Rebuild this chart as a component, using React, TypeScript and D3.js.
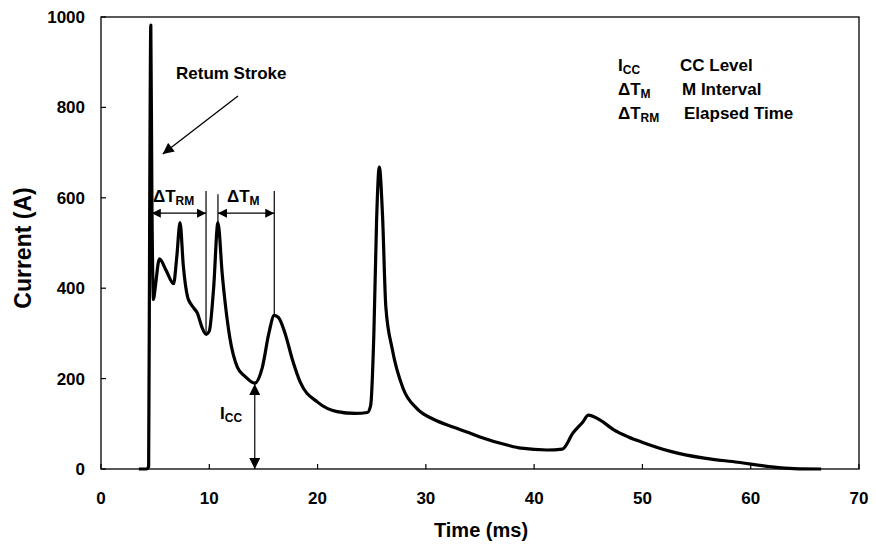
import React from "react";
import * as d3 from "d3";

const timeMs = [3.5, 4.2, 4.4, 4.5, 4.6, 4.7, 4.85, 5.0, 5.4, 6.0, 6.7, 7.0, 7.3, 7.6, 8.0, 8.3, 8.6, 8.9, 9.3, 9.7, 10.0, 10.4, 10.8, 11.2, 11.9, 12.6, 13.3, 14.2, 14.9, 15.5, 16.0, 16.4, 17.0, 17.7, 18.4, 20.0, 21.8, 23.5, 24.6, 24.9, 25.2, 25.45, 25.7, 26.0, 26.3, 26.9, 27.9, 29.2, 30.7, 32.5, 34.0, 35.0, 37.5, 38.8, 41.2, 42.6, 43.6, 44.5, 45.0, 46.1, 47.4, 48.7, 49.9, 52.6, 55.7, 58.8, 61.9, 64.0, 66.5];
const currentA = [0, 0, 5, 600, 982, 600, 375, 400, 465, 440, 410, 470, 545, 450, 380, 365, 355, 345, 315, 298, 305, 400, 545, 430, 290, 225, 205, 190, 225, 300, 340, 335, 300, 240, 192, 148, 127, 123, 125, 140, 300, 550, 668, 560, 360, 265, 178, 133, 110, 93, 80, 71, 53, 46, 42, 44, 80, 104, 119, 108, 86, 71, 60, 39, 24, 15, 5, 1, 0];

const xTicks = [0, 10, 20, 30, 40, 50, 60, 70];
const yTicks = [0, 200, 400, 600, 800, 1000];

const legendSymbols = [["I", "CC"], ["\u0394T", "M"], ["\u0394T", "RM"]];
const legendTexts = ["CC Level", "M Interval", "Elapsed Time"];

const W = 876;
const H = 549;
const FONT = "'Liberation Sans', Arial, sans-serif";

export default function App() {
  const x = d3.scaleLinear().domain([0, 70]).range([101, 859]);
  const y = d3.scaleLinear().domain([0, 1000]).range([469, 17]);
  const pts = timeMs.map((t, i) => [t, currentA[i]] as [number, number]);
  const line = d3
    .line<[number, number]>()
    .x((d) => x(d[0]))
    .y((d) => y(d[1]))
    .curve(d3.curveMonotoneX);

  const arrowY = y(566);
  const tRet = 4.6;
  const tMin = 9.7;
  const tPk2 = 10.8;
  const tPk3 = 16.0;
  const tIcc = 14.2;
  const vIcc = 190;

  return (
    <svg width={W} height={H} style={{ position: "absolute", left: 0, top: 0, background: "#fff" }} fontFamily={FONT}>
      <defs>
        <marker id="ahs" viewBox="0 0 10 10" refX="10" refY="5" markerWidth="11" markerHeight="9" markerUnits="userSpaceOnUse" orient="auto-start-reverse">
          <path d="M0,0 L10,5 L0,10 z" fill="#000" />
        </marker>
        <marker id="ahb" viewBox="0 0 10 10" refX="10" refY="5" markerWidth="13" markerHeight="11" markerUnits="userSpaceOnUse" orient="auto-start-reverse">
          <path d="M0,0 L10,5 L0,10 z" fill="#000" />
        </marker>
      </defs>
      <rect x={0} y={0} width={W} height={H} fill="#fff" />
      {/* frame */}
      <rect x={x(0)} y={y(1000)} width={x(70) - x(0)} height={y(0) - y(1000)} fill="none" stroke="#000" strokeWidth={1.3} />
      {/* ticks */}
      {xTicks.map((t) => (
        <g key={"xt" + t}>
          <line x1={x(t)} x2={x(t)} y1={y(0)} y2={y(0) - 5} stroke="#000" strokeWidth={1.2} />
          <text x={x(t)} y={504} textAnchor="middle" fontSize={17} fontWeight="bold">{t}</text>
        </g>
      ))}
      {yTicks.map((v) => (
        <g key={"yt" + v}>
          <line x1={x(0)} x2={x(0) + 5} y1={y(v)} y2={y(v)} stroke="#000" strokeWidth={1.2} />
          <text x={85} y={y(v) + 6} textAnchor="end" fontSize={17} fontWeight="bold">{v}</text>
        </g>
      ))}
      <text x={481} y={537} textAnchor="middle" fontSize={20} fontWeight="bold">Time (ms)</text>
      <text transform={`translate(31,248) rotate(-90)`} textAnchor="middle" fontSize={23} fontWeight="bold">Current (A)</text>

      {/* curve */}
      <path d={line(pts) || ""} fill="none" stroke="#000" strokeWidth={3.2} strokeLinejoin="round" />

      {/* Return stroke */}
      <text x={176} y={79} fontSize={17} fontWeight="bold">Retum Stroke</text>
      <line x1={x(12.65)} y1={y(825)} x2={x(5.7)} y2={y(697)} stroke="#000" strokeWidth={1.3} markerEnd="url(#ahb)" />

      {/* Delta T RM */}
      <text x={153} y={202} fontSize={17} fontWeight="bold">
        {"\u0394T"}
        <tspan fontSize={12} dy={3}>RM</tspan>
      </text>
      <line x1={x(tRet) + 1} x2={x(tMin)} y1={arrowY} y2={arrowY} stroke="#000" strokeWidth={1.2} markerStart="url(#ahs)" markerEnd="url(#ahs)" />
      <line x1={x(tMin)} x2={x(tMin)} y1={y(615)} y2={y(300)} stroke="#000" strokeWidth={1.2} />

      {/* Delta T M */}
      <text x={227} y={202} fontSize={17} fontWeight="bold">
        {"\u0394T"}
        <tspan fontSize={12} dy={3}>M</tspan>
      </text>
      <line x1={x(tPk2)} x2={x(tPk3)} y1={arrowY} y2={arrowY} stroke="#000" strokeWidth={1.2} markerStart="url(#ahs)" markerEnd="url(#ahs)" />
      <line x1={x(tPk2)} x2={x(tPk2)} y1={y(608)} y2={y(545)} stroke="#000" strokeWidth={1.2} />
      <line x1={x(tPk3)} x2={x(tPk3)} y1={y(615)} y2={y(340)} stroke="#000" strokeWidth={1.2} />

      {/* Icc */}
      <line x1={x(tIcc)} x2={x(tIcc)} y1={y(vIcc) + 1} y2={y(0)} stroke="#000" strokeWidth={1.2} markerStart="url(#ahb)" markerEnd="url(#ahb)" />
      <text x={220} y={419} fontSize={17} fontWeight="bold">
        I
        <tspan fontSize={12} dy={3}>CC</tspan>
      </text>

      {/* legend */}
      {legendSymbols.map((s, i) => (
        <g key={"lg" + i}>
          <text x={618} y={71 + i * 24} fontSize={17} fontWeight="bold">
            {s[0]}
            <tspan fontSize={12} dy={3}>{s[1]}</tspan>
          </text>
          <text x={680 + i * 2} y={71 + i * 24} fontSize={17} fontWeight="bold">{legendTexts[i]}</text>
        </g>
      ))}
    </svg>
  );
}
